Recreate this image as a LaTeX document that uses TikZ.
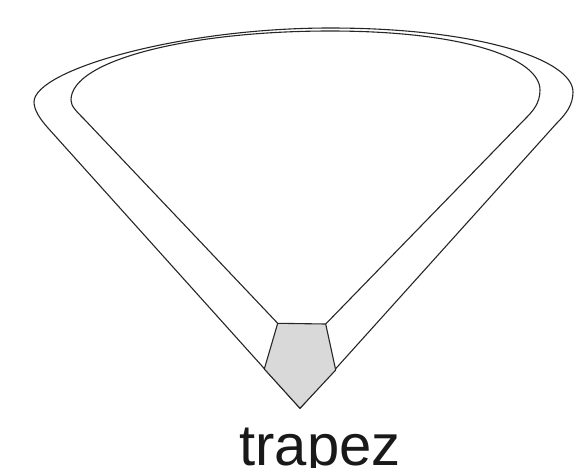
\documentclass[tikz,border=0pt]{standalone}
\usepackage{fontspec}
\setmainfont{Liberation Sans}
\begin{document}
\begin{tikzpicture}[x=1pt,y=-1pt,
  outline/.style={draw=black!85,line width=1.1pt,line join=round},
  block/.style={draw=black!85,fill=black!15,line width=1.1pt,line join=round},
  label/.style={font=\fontsize{58}{60}\selectfont,text=black!90,inner sep=0pt,anchor=base}]
\useasboundingbox (0,0) rectangle (574,467);
% pentagon vertices
\coordinate (tl) at (277.7,323.3);
\coordinate (tr) at (325.7,324);
\coordinate (rv) at (335.7,370);
\coordinate (tip) at (300,408.3);
\coordinate (lv) at (264.3,369);
% outer loop
\draw[outline] (tip) -- (48,128)
  .. controls (40,119) and (34,110) .. (34,102)
  .. controls (34,70) and (180,28) .. (330,28)
  .. controls (480,28) and (573,60) .. (573,92)
  .. controls (573,105) and (566,114) .. (556,124) -- (tip);
% inner loop
\draw[outline] (tl) -- (84,119)
  .. controls (76,111) and (71,106) .. (71,100)
  .. controls (71,60) and (190,31) .. (330,31)
  .. controls (470,31) and (540,60) .. (540,90)
  .. controls (540,103) and (533,111) .. (526,118) -- (tr);
% pentagon
\draw[block] (tl) -- (tr) -- (rv) -- (tip) -- (lv) -- cycle;
\node[label] (lbl) at (320,465) {trapez};
\end{tikzpicture}
\end{document}
